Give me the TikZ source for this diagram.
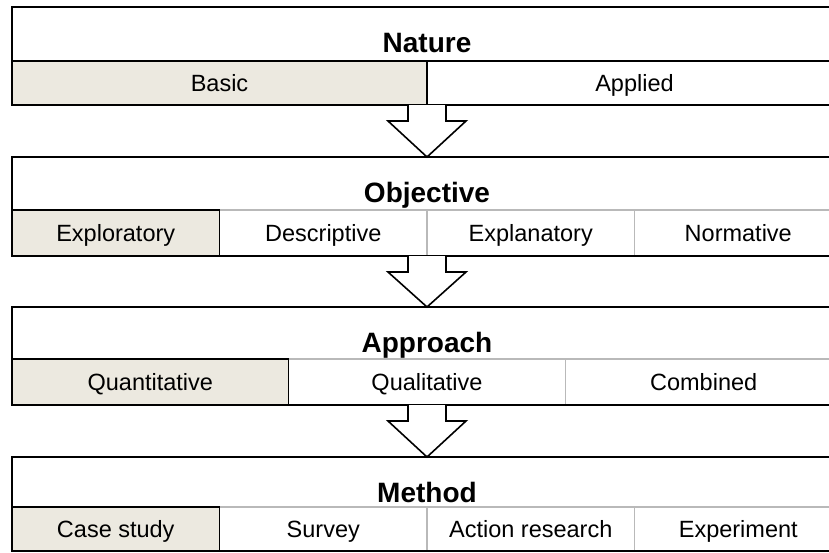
\documentclass[tikz,border=0pt]{standalone}
\usepackage{fontspec}
\setmainfont{Liberation Sans}
\usetikzlibrary{calc}

\definecolor{hlfill}{RGB}{236,233,224}
\definecolor{cellline}{RGB}{185,185,185}

\tikzset{
  frame/.style={draw=black,line width=1.8pt,inner sep=0pt,outer sep=0pt},
  cell/.style={draw=cellline,line width=1.4pt,fill=white,inner sep=0pt,outer sep=0pt,
    text height=17pt,text depth=0pt,font=\fontsize{23.5}{26}\selectfont},
  cellhl/.style={cell,draw=black,line width=1.6pt,fill=hlfill},
  cellon/.style={cell,draw=black,line width=1.6pt},
  titletext/.style={inner sep=0pt,anchor=base,font=\fontsize{28}{32}\selectfont\bfseries},
  blockarrow/.style={draw=black,line width=1.6pt,fill=white,line join=miter}
}

\begin{document}
\begin{tikzpicture}[x=1pt,y=-1pt]

\useasboundingbox (0,0) rectangle (829,552);
\clip (0,0) rectangle (829,552);

%nature
\node[cellhl,minimum width=415pt,minimum height=44pt] (basic) at (219.5,83) {Basic};
\node[cellon,minimum width=415pt,minimum height=44pt] (applied) at (634.5,83) {Applied};
\node[titletext] (nature) at (427,52) {Nature};
\node[frame,minimum width=830pt,minimum height=98pt] (natureframe) at (427,56) {};

%objective
\node[cell,minimum width=207.5pt,minimum height=46pt] (descriptive) at (323.25,233) {Descriptive};
\node[cell,minimum width=207.5pt,minimum height=46pt] (explanatory) at (530.75,233) {Explanatory};
\node[cell,minimum width=207.5pt,minimum height=46pt] (normative) at (738.25,233) {Normative};
\node[cellhl,minimum width=207.5pt,minimum height=46pt] (exploratory) at (115.75,233) {Exploratory};
\node[titletext] (objective) at (427,202) {Objective};
\node[frame,minimum width=830pt,minimum height=99pt] (objectiveframe) at (427,206.5) {};

%approach
\node[cell,minimum width=276.67pt,minimum height=46pt] (qualitative) at (427,382) {Qualitative};
\node[cell,minimum width=276.67pt,minimum height=46pt] (combined) at (703.67,382) {Combined};
\node[cellhl,minimum width=276.67pt,minimum height=46pt] (quantitative) at (150.33,382) {Quantitative};
\node[titletext] (approach) at (427,352) {Approach};
\node[frame,minimum width=830pt,minimum height=98pt] (approachframe) at (427,356) {};

%method
\node[cell,minimum width=207.5pt,minimum height=44pt] (survey) at (323.25,529) {Survey};
\node[cell,minimum width=207.5pt,minimum height=44pt] (action) at (530.75,529) {Action research};
\node[cell,minimum width=207.5pt,minimum height=44pt] (experiment) at (738.25,529) {Experiment};
\node[cellhl,minimum width=207.5pt,minimum height=44pt] (casestudy) at (115.75,529) {Case study};
\node[titletext] (method) at (427,502) {Method};
\node[frame,minimum width=830pt,minimum height=94pt] (methodframe) at (427,504) {};

%arrows
\path[blockarrow] ($(natureframe.south)+(-19,0)$) -- ++(0,16) -- ++(-20,0)
  -- (objectiveframe.north) -- ($(natureframe.south)+(39,16)$) -- ++(-20,0)
  -- ($(natureframe.south)+(19,0)$);
\path[blockarrow] ($(objectiveframe.south)+(-19,0)$) -- ++(0,16) -- ++(-20,0)
  -- (approachframe.north) -- ($(objectiveframe.south)+(39,16)$) -- ++(-20,0)
  -- ($(objectiveframe.south)+(19,0)$);
\path[blockarrow] ($(approachframe.south)+(-19,0)$) -- ++(0,16) -- ++(-20,0)
  -- (methodframe.north) -- ($(approachframe.south)+(39,16)$) -- ++(-20,0)
  -- ($(approachframe.south)+(19,0)$);

\end{tikzpicture}
\end{document}
